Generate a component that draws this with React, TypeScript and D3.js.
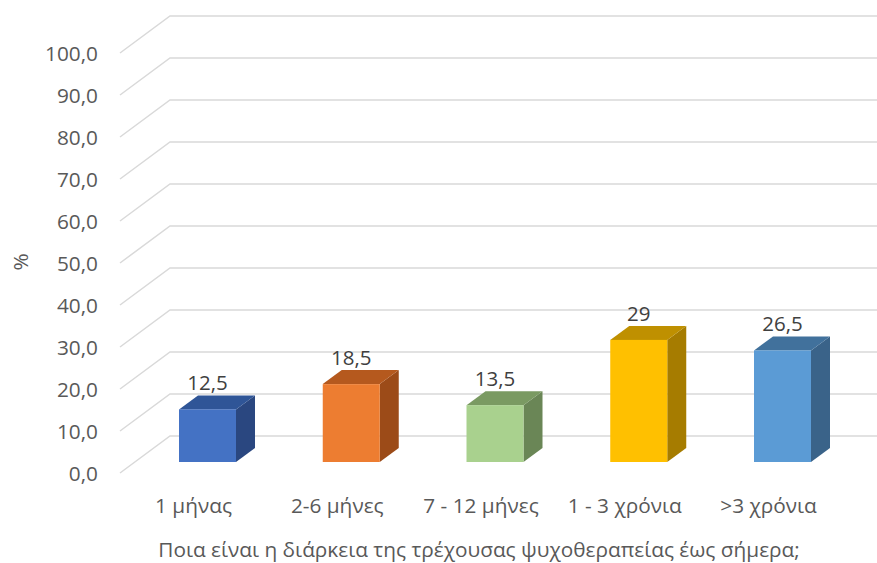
import React from "react";
import * as d3 from "d3";

const categories = ["1 μήνας", "2-6 μήνες", "7 - 12 μήνες", "1 - 3 χρόνια", ">3 χρόνια"];
const values = [12.5, 18.5, 13.5, 29, 26.5];
const valueLabels = ["12,5", "18,5", "13,5", "29", "26,5"];
const ticks = [0, 10, 20, 30, 40, 50, 60, 70, 80, 90, 100];
const frontColors = ["#4472C4", "#ED7D31", "#A9D18E", "#FFC000", "#5B9BD5"];
const topColors = ["#2F5597", "#B5591E", "#7A9A62", "#BF9000", "#41719C"];
const sideColors = ["#2A4780", "#9C4B18", "#6A8656", "#A67C00", "#3A6389"];
const yTitle = "%";
const xTitle = "Ποια είναι η διάρκεια της τρέχουσας ψυχοθεραπείας έως σήμερα;";

const W = 877, H = 563;
const font = "'Open Sans', sans-serif";

export default function App() {
  const yFront = d3.scaleLinear().domain([0, 100]).range([473, 53]);
  const wallDX = 50, wallDY = -37;
  const yBar = d3.scaleLinear().domain([0, 100]).range([462, 41]);
  const xC = d3.scalePoint<string>().domain(categories).range([207.5, 782.5]);
  const bw = 57, dx = 19, dy = -14;
  const fmt = (v: number) => v.toFixed(1).replace(".", ",");

  return (
    <svg width={W} height={H} style={{ position: "absolute", left: 0, top: 0, background: "#fff" }}>
      {ticks.map((t) => {
        const yf = yFront(t);
        return (
          <g key={t}>
            <path d={`M120,${yf} L${120 + wallDX},${yf + wallDY} L${W},${yf + wallDY}`} fill="none" stroke="#D9D9D9" strokeWidth={1.5} />
            <text x={98} y={yf} textAnchor="end" dominantBaseline="central" fontFamily={font} fontSize={20.8} fill="#595959">{fmt(t)}</text>
          </g>
        );
      })}
      {categories.map((c, i) => {
        const cx = xC(c)!;
        const x0 = cx - bw / 2, x1 = cx + bw / 2;
        const y0 = yBar(0), yt = yBar(values[i]);
        return (
          <g key={c}>
            <path d={`M${x1},${y0} L${x1 + dx},${y0 + dy} L${x1 + dx},${yt + dy} L${x1},${yt} Z`} fill={sideColors[i]} />
            <path d={`M${x0},${yt} L${x1},${yt} L${x1 + dx},${yt + dy} L${x0 + dx},${yt + dy} Z`} fill={topColors[i]} />
            <rect x={x0} y={yt} width={bw} height={y0 - yt} fill={frontColors[i]} />
            <text x={cx} y={yt + dy - 5} textAnchor="middle" fontFamily={font} fontSize={20.5} fill="#404040">{valueLabels[i]}</text>
            <text x={cx - 14} y={505} textAnchor="middle" dominantBaseline="central" fontFamily={font} fontSize={20.8} fill="#595959">{c}</text>
          </g>
        );
      })}
      <text transform="translate(20,262) rotate(-90)" textAnchor="middle" dominantBaseline="central" fontFamily={font} fontSize={20.8} fill="#595959">{yTitle}</text>
      <text x={479} y={549} textAnchor="middle" dominantBaseline="central" fontFamily={font} fontSize={20.8} fill="#595959">{xTitle}</text>
    </svg>
  );
}
